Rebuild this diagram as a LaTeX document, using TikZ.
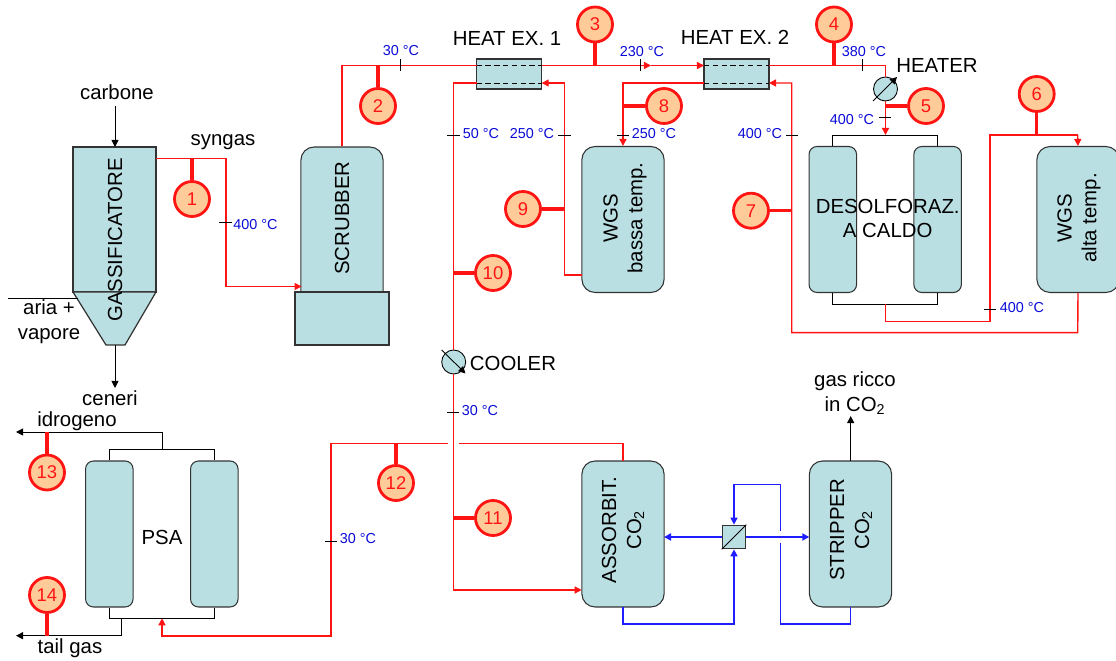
\documentclass[tikz,border=0pt]{standalone}
\usepackage{fontspec}
\setmainfont{Liberation Sans}
\definecolor{tankfill}{RGB}{185,223,227}
\definecolor{tagfill}{RGB}{255,204,153}
\definecolor{tempblue}{RGB}{10,10,215}
\definecolor{pipered}{RGB}{255,20,20}
\definecolor{pipeblue}{RGB}{30,30,255}
\usetikzlibrary{arrows.meta}

\begin{document}
\begin{tikzpicture}[
  x=0.02cm, y=-0.02cm,
  >={Triangle[length=4pt,width=4pt]},
  txt/.style={font=\fontsize{11.6}{14.2}\selectfont, align=center, inner sep=0pt},
  vtxt/.style={txt, rotate=90},
  temp/.style={font=\fontsize{8.2}{9}\selectfont, text=tempblue, inner sep=0pt},
  tank/.style={
    rectangle, draw=black!80, fill=tankfill, inner sep=0pt, line width=0.6pt,
    minimum width=0.95cm, minimum height=2.92cm, rounded corners=4.5pt
  },
  widetank/.style={tank, minimum width=1.645cm, rounded corners=7.5pt},
  box/.style={rectangle, draw=black!80, fill=tankfill, inner sep=0pt, line width=0.7pt},
  ring/.style={circle, draw=black, fill=tankfill, inner sep=0pt, minimum size=0.48cm, line width=0.5pt},
  marker/.style={
    circle, draw=pipered, fill=tagfill, text=pipered, inner sep=0pt,
    minimum size=0.7cm, line width=1.6pt, font=\fontsize{10.5}{12}\selectfont
  },
  stub/.style={pipered, line width=1.9pt},
  redpipe/.style={pipered, line width=0.8pt},
  bluepipe/.style={pipeblue, line width=0.85pt},
  blackpipe/.style={black, line width=0.55pt},
  dotted line/.style={line width=0.5pt, dash pattern=on 3pt off 2pt},
  tick/.style={black, line width=0.5pt}
]
\useasboundingbox (0,0) rectangle (1116,661);

% gassifier
\node[box, minimum width=1.66cm, minimum height=2.9cm] (gassif) at (114.5,219.5) {};
\draw[box] (73,292) -- (156,292) -- (125,345) -- (106,345) -- cycle;
\coordinate (gassifout) at (156,158.5);
\coordinate (gassifbot) at (115,345);
\coordinate (gassiftop) at (115,147);
\coordinate (coalin) at (115,106);
\coordinate (ashout) at (115,388);
\coordinate (airin) at (8,298);
\coordinate (airend) at (78,298);
\node[vtxt] (gassiftxt) at (115,240) {GASSIFICATORE};
\node[txt] (carbone) at (117,92) {carbone};
\node[txt] (syngas) at (223,142) {syngas};
\node[txt] (aria) at (49,322) {aria +\\vapore};
\node[txt] (ceneri) at (110,398) {ceneri};

% scrubber
\node[widetank, minimum height=3.66cm] (scrubber) at (342,238.5) {};
\node[box, minimum width=1.88cm, minimum height=1.06cm] (scrubbase) at (342,318.5) {};
\node[vtxt] (scrubtxt) at (342,218) {SCRUBBER};
\coordinate (scrubin) at (301.6,286.5);

% heat exchangers
\node[box, minimum width=1.3cm, minimum height=0.6cm] (hxa) at (509,74) {};
\node[box, minimum width=1.3cm, minimum height=0.6cm] (hxb) at (736.5,74) {};
\draw[dotted line] (476.7,65.5) -- (541.7,65.5);
\draw[dotted line] (476.7,83) -- (541.7,83);
\draw[dotted line] (704,65.5) -- (769,65.5);
\draw[dotted line] (704,83) -- (769,83);
\coordinate (hxaw) at (476.7,65.5);
\coordinate (hxae) at (541.7,65.5);
\coordinate (hxaretw) at (476.7,83);
\coordinate (hxarete) at (541.7,83);
\coordinate (hxbw) at (704,65.5);
\coordinate (hxbe) at (769,65.5);
\coordinate (hxbretw) at (704,83);
\coordinate (hxbrete) at (769,83);
\node[txt] (hxatxt) at (507,38) {HEAT EX. 1};
\node[txt] (hxbtxt) at (735,37) {HEAT EX. 2};

% WGS reactors
\node[widetank] (wgsb) at (623,219.5) {};
\node[vtxt] (wgsbtxt) at (625,218) {WGS\\bassa temp.};
\node[widetank] (wgsa) at (1078,219.5) {};
\node[vtxt] (wgsatxt) at (1079,218) {WGS\\alta temp.};
\coordinate (wgsbout) at (581.7,275);

% desulphuriser
\node[tank] (desa) at (832.8,219.5) {};
\node[tank] (desb) at (937.6,219.5) {};
\node[txt] (destxt) at (887.7,218.5) {DESOLFORAZ.\\A CALDO};
\coordinate (destop) at (885.5,135);
\coordinate (desbot) at (885.5,304);

% heater and cooler
\node[ring] (heater) at (885.5,89) {};
\draw[->, black, line width=0.5pt] (873,101) -- (897,77);
\node[txt] (heatertxt) at (937,65) {HEATER};
\node[ring] (cooler) at (453.7,362) {};
\draw[->, black, line width=0.5pt] (441.7,350) -- (465.5,373.5);
\node[txt] (coolertxt) at (513,363) {COOLER};

% absorber, stripper, exchanger
\node[widetank] (assorb) at (623,534) {};
\node[vtxt] (assorbtxt) at (623,530) {ASSORBIT.\\CO\textsubscript{2}};
\node[widetank] (stripper) at (850.5,534) {};
\node[vtxt] (strippertxt) at (851,530) {STRIPPER\\CO\textsubscript{2}};
\node[box, minimum size=0.47cm, fill=tankfill] (lean) at (734,537) {};
\draw[black, line width=0.5pt] (lean.south west) -- (lean.north east);
\coordinate (assorbin) at (581.7,590);
\coordinate (assorbtop) at (623,461);
\coordinate (assorbbot) at (623,606.7);
\coordinate (assorbeast) at (664,537);
\coordinate (stripbot) at (850.7,606.7);
\coordinate (striptop) at (850.7,461);
\coordinate (stripwest) at (809.3,537);
\coordinate (co2out) at (850.7,416);
\node[txt] (co2txt) at (855,393) {gas ricco\\in CO\textsubscript{2}};

% PSA
\node[tank] (psaa) at (109.3,534) {};
\node[tank] (psab) at (214.3,534) {};
\node[txt] (psatxt) at (162,537) {PSA};
\coordinate (psatop) at (162,449.7);
\coordinate (psaout) at (121,618.3);
\coordinate (psain) at (162,618.3);
\coordinate (hyout) at (16,432);
\coordinate (tailout) at (16,635.7);
\node[txt] (idrogeno) at (77,421) {idrogeno};
\node[txt] (tailgas) at (70,648) {tail gas};

% black lines
\draw[->, blackpipe] (coalin) -- (gassiftop);
\draw[->, blackpipe] (gassifbot) -- (ashout);
\draw[blackpipe] (airin) -- (airend);
\draw[->, blackpipe] (striptop) -- (co2out);
\draw[blackpipe] (desa.north) -- (832.8,135) -- (937.6,135) -- (desb.north);
\draw[blackpipe] (desa.south) -- (832.8,304) -- (937.6,304) -- (desb.south);
\draw[blackpipe] (psaa.north) -- (109.3,449.7) -- (214.3,449.7) -- (psab.north);
\draw[blackpipe] (psaa.south) -- (109.3,618.3) -- (214.3,618.3) -- (psab.south);
\draw[->, blackpipe] (psatop) -- (162,432) -- (hyout);
\draw[->, blackpipe] (psaout) -- (121,635.7) -- (tailout);

% red lines
\draw[->, redpipe] (gassifout) -- (226,158.5) -- (226,286.5) -- (scrubin);
\draw[redpipe] (scrubber.north) -- (342,65.5) -- (hxaw);
\draw[->, redpipe] (hxae) -- (651,65.5);
\draw[->, redpipe] (651,65.5) -- (hxbw);
\draw[redpipe] (hxbe) -- (885.5,65.5) -- (heater.north);
\draw[->, redpipe] (heater.south) -- (destop);
\draw[redpipe] (desbot) -- (885.5,321.7) -- (990,321.7) -- (990,135) -- (1077.7,135);
\draw[->, redpipe] (1077.7,135) -- (wgsa.north);
\draw[->, redpipe] (wgsa.south) -- (1077.7,332.7) -- (791.7,332.7) -- (791.7,83) -- (hxbrete);
\draw[->, redpipe] (hxbretw) -- (623,83) -- (wgsb.north);
\draw[->, redpipe] (wgsbout) -- (564.3,275) -- (564.3,83) -- (hxarete);
\draw[redpipe] (hxaretw) -- (453.7,83) -- (cooler.north);
\draw[->, redpipe] (cooler.south) -- (453.7,590) -- (assorbin);
\draw[redpipe] (assorbtop) -- (623,443.7) -- (458.7,443.7);
\draw[->, redpipe] (448,443.7) -- (331,443.7) -- (331,636) -- (162,636) -- (psain);

% blue lines
\draw[->, pipeblue, line width=1.2pt] (lean.west) -- (assorbeast);
\draw[->, pipeblue, line width=1.2pt] (lean.east) -- (stripwest);
\draw[->, bluepipe] (780.7,531) -- (780.7,484.3) -- (734,484.3) -- (lean.north);
\draw[bluepipe] (780.7,542.7) -- (780.7,624) -- (850.7,624) -- (stripbot);
\draw[->, bluepipe] (assorbbot) -- (623,624) -- (734,624) -- (lean.south);

% ticks
\draw[tick] (219,222.7) -- (232,222.7);
\draw[tick] (400.7,59) -- (400.7,71);
\draw[tick] (640.7,59) -- (640.7,71);
\draw[tick] (862,59) -- (862,71);
\draw[tick] (879,117.7) -- (891,117.7);
\draw[tick] (786,135.7) -- (797.7,135.7);
\draw[tick] (617,135.5) -- (629,135.5);
\draw[tick] (558,135.5) -- (571,135.5);
\draw[tick] (447,135.5) -- (459.7,135.5);
\draw[tick] (984,309.7) -- (996,309.7);
\draw[tick] (447,412.7) -- (459,412.7);
\draw[tick] (325,541) -- (337,541);

% temperatures
\node[temp] (t1) at (255.5,225) {400 °C};
\node[temp] (t2) at (401,51) {30 °C};
\node[temp] (t3) at (642,52) {230 °C};
\node[temp] (t4) at (864,52) {380 °C};
\node[temp] (t5) at (852,120) {400 °C};
\node[temp] (t6) at (760,134) {400 °C};
\node[temp] (t7) at (654,134) {250 °C};
\node[temp] (t8) at (532,134) {250 °C};
\node[temp] (t9) at (481,134) {50 °C};
\node[temp] (t10) at (1022,308) {400 °C};
\node[temp] (t11) at (480,411) {30 °C};
\node[temp] (t12) at (358,539) {30 °C};

% numbered markers
\node[marker] (m1) at (192,199) {1};
\node[marker] (m2) at (378,106) {2};
\node[marker] (m3) at (595,24.5) {3};
\node[marker] (m4) at (834,24.5) {4};
\node[marker] (m5) at (926,106) {5};
\node[marker] (m6) at (1036.7,94) {6};
\node[marker] (m7) at (751,210.7) {7};
\node[marker] (m8) at (664,106) {8};
\node[marker] (m9) at (523,209) {9};
\node[marker] (m10) at (493,273) {10};
\node[marker] (m11) at (493,518) {11};
\node[marker] (m12) at (396,483) {12};
\node[marker] (m13) at (47,472.5) {13};
\node[marker] (m14) at (47,595) {14};

\draw[stub] (m1.north) -- (192,158.5);
\draw[stub] (m2.north) -- (378,65.5);
\draw[stub] (m3.south) -- (595,65.5);
\draw[stub] (m4.south) -- (834,65.5);
\draw[stub] (m5.west) -- (885.5,106);
\draw[stub] (m6.south) -- (1036.7,135);
\draw[stub] (m7.east) -- (791.7,210.7);
\draw[stub] (m8.west) -- (623,106);
\draw[stub] (m9.east) -- (564.3,209);
\draw[stub] (m10.west) -- (453.7,273);
\draw[stub] (m11.west) -- (453.7,518);
\draw[stub] (m12.north) -- (396,443.7);
\draw[stub] (m13.north) -- (47,432);
\draw[stub] (m14.south) -- (47,635.7);
\end{tikzpicture}
\end{document}
